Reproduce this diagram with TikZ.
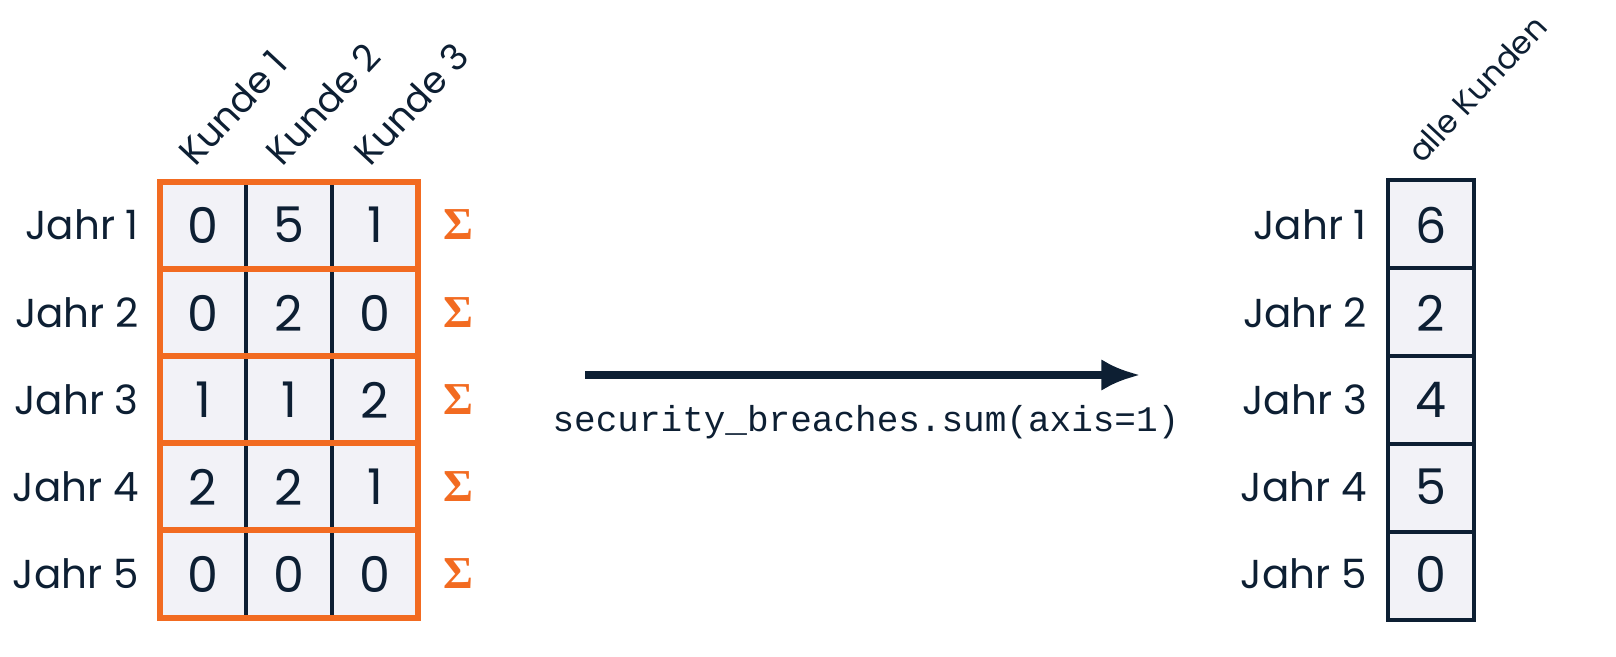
\documentclass[tikz,border=0pt]{standalone}
\usepackage{fontspec}
\usetikzlibrary{arrows.meta}
\setmainfont{Poppins}
\newfontfamily\codefont{Liberation Mono}
\newfontfamily\sigfont{Liberation Serif}
\definecolor{org}{HTML}{F26B21}
\definecolor{dk}{HTML}{0D1F33}
\definecolor{cellbg}{HTML}{F2F2F7}
\begin{document}
\begin{tikzpicture}[x=0.02cm,y=-0.02cm,
  lab/.style={font=\fontsize{23}{23}\selectfont,text=dk,anchor=east},
  num/.style={font=\fontsize{28}{28}\selectfont,text=dk},
  sig/.style={font=\sigfont\bfseries\fontsize{26}{26}\selectfont,text=org},
  head/.style={font=\fontsize{21}{21}\selectfont,text=dk,rotate=47,anchor=base west,inner sep=0pt}]
\fill[cellbg] (160,182) rectangle (418,618);
\fill[cellbg] (1388,180) rectangle (1474,620);
\foreach \x in {246,332} \draw[dk,line width=2.2pt] (\x,182) -- (\x,618);
\foreach \y in {269,356,443,530} \draw[org,line width=3.2pt] (160,\y) -- (418,\y);
\draw[org,line width=3.2pt] (160,182) rectangle (418,618);
\foreach \y in {268,356,444,532} \draw[dk,line width=2pt] (1388,\y) -- (1474,\y);
\draw[dk,line width=2pt] (1388,180) rectangle (1474,620);
\node[head] (k1) at (195,168) {Kunde 1};
\node[head] (k2) at (282,168) {Kunde 2};
\node[head] (k3) at (370,168) {Kunde 3};
\node[head,font=\fontsize{18}{18}\selectfont] (ak) at (1422,165) {alle Kunden};
\foreach \i/\a/\b/\c/\s [count=\n] in {225/0/5/1/6, 313/0/2/0/2, 400/1/1/2/4, 487/2/2/1/5, 574/0/0/0/0}{
  \node[lab] (j\n) at (145,\i) {Jahr \n};
  \node[num] (a\n) at (203,\i) {\a};
  \node[num] (b\n) at (289,\i) {\b};
  \node[num] (c\n) at (375,\i) {\c};
  \node[sig] (s\n) at (458,\i) {Σ};
  \node[lab] (r\n) at (1373,\i) {Jahr \n};
  \node[num] (t\n) at (1431,\i) {\s};
}
\coordinate (as) at (585,375);
\coordinate (ae) at (1140,375);
\draw[dk,line width=4pt,-{Latex[length=22pt,width=18pt]}] (as) -- (ae);
\node[font=\codefont\fontsize{20.5}{20.5}\selectfont,text=dk] (code) at (866,422) {security\_breaches.sum(axis=1)};
\pgfresetboundingbox
\useasboundingbox (0,0) rectangle (1616,656);
\end{tikzpicture}
\end{document}
